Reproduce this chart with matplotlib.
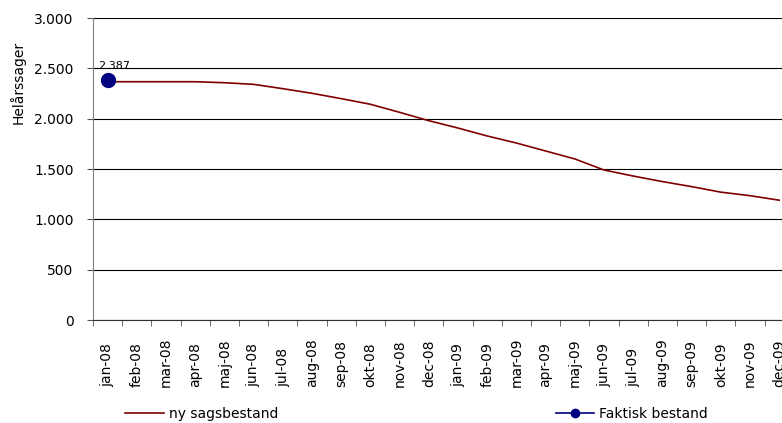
import matplotlib
matplotlib.use("Agg")
import matplotlib.pyplot as plt
from matplotlib.lines import Line2D
from matplotlib.ticker import FuncFormatter

plt.rcParams['font.family'] = ['DejaVu Sans']

months = ['jan-08', 'feb-08', 'mar-08', 'apr-08', 'maj-08', 'jun-08',
          'jul-08', 'aug-08', 'sep-08', 'okt-08', 'nov-08', 'dec-08',
          'jan-09', 'feb-09', 'mar-09', 'apr-09', 'maj-09', 'jun-09',
          'jul-09', 'aug-09', 'sep-09', 'okt-09', 'nov-09', 'dec-09']
ny_sagsbestand = [2367, 2367, 2367, 2367, 2357, 2341, 2298, 2252, 2199, 2143,
                  2063, 1980, 1907, 1828, 1758, 1679, 1600, 1490, 1430, 1375,
                  1325, 1270, 1235, 1190]
faktisk_month = ['jan-08']
faktisk_bestand = [2387]

fig = plt.figure(figsize=(7.82, 4.23), dpi=100)
# plot area runs past the right edge, like the original
ax = fig.add_axes([93/782, 1-320/423, (793.8-93)/782, (320-18)/423])

x = list(range(len(months)))
ax.plot(x, ny_sagsbestand, color='#800000', lw=1.2, zorder=3)
xf = [months.index(m) for m in faktisk_month]
ax.plot(xf, faktisk_bestand, color='#000080', marker='o', ms=10, lw=1.2, zorder=4)
for xi, v in zip(xf, faktisk_bestand):
    ax.annotate(f"{v:,}".replace(',', '.'), (xi, v), xytext=(-7, 8),
                textcoords='offset points', fontsize=8)

ax.set_xlim(-0.5, len(months) - 0.5)
ax.set_ylim(0, 3000)
ax.set_yticks(range(0, 3001, 500))
ax.yaxis.set_major_formatter(FuncFormatter(lambda v, p: f"{int(v):,}".replace(',', '.')))
ax.grid(axis='y', color='black', lw=0.8)
ax.set_axisbelow(True)

ax.set_xticks(x)
ax.set_xticklabels(months, rotation=90, fontsize=10)
ax.set_xticks([i - 0.5 for i in range(len(months) + 1)], minor=True)
ax.tick_params(axis='x', which='major', length=0, pad=48)
ax.tick_params(axis='x', which='minor', length=4, color='#555555')
plt.setp(ax.get_xticklabels(), va='bottom')
ax.tick_params(axis='y', length=4, pad=10, labelsize=10, color='#555555')

for s in ['top', 'right']:
    ax.spines[s].set_visible(False)
ax.spines['left'].set_color('#808080')
ax.spines['bottom'].set_color('#333333')

fig.text(18/782, 1-82/423, 'Helårssager', rotation=90, ha='center', va='center', fontsize=10)

h1 = Line2D([], [], color='#800000', lw=1.2)
h2 = Line2D([], [], color='#000080', lw=1.2, marker='o', ms=6)
fig.legend([h1], ['ny sagsbestand'], loc='center left', bbox_to_anchor=(113/782, 1-414/423),
           frameon=False, fontsize=10, handlelength=2.8, handletextpad=0.3)
fig.legend([h2], ['Faktisk bestand'], loc='center left', bbox_to_anchor=(543/782, 1-414/423),
           frameon=False, fontsize=10, handlelength=2.8, handletextpad=0.3)

fig.savefig('out.png', dpi=100)
